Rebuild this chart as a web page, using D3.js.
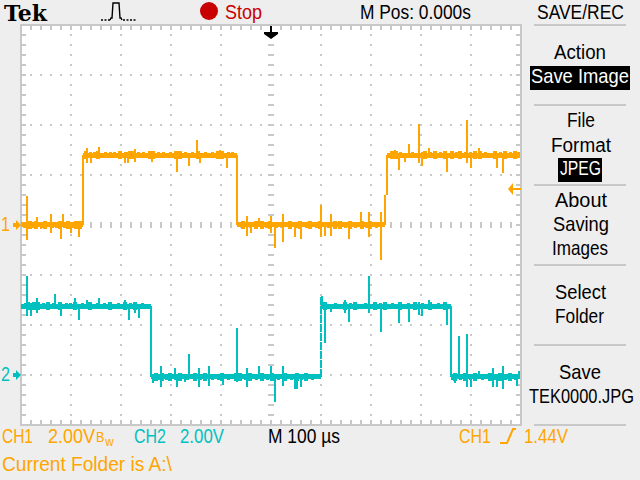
<!DOCTYPE html>
<html><head><meta charset="utf-8">
<script src="https://cdn.jsdelivr.net/npm/d3@7/dist/d3.min.js"></script>
<style>html,body{margin:0;padding:0;background:#eeeeee}svg{display:block}
text{font-family:"Liberation Sans Narrow","Liberation Sans",sans-serif;font-size:20px}</style>
</head><body><svg id="c" width="640" height="480"></svg>
<script>
// Time in microseconds from screen centre, voltage in volts above each channel's ground.
const ch1Steps = [[-500,0.02],[-376,0.02],[-376,2.8],[-68,2.8],[-68,0.02],[228,0.02],[228,1.2],[232,1.2],[232,2.8],[498,2.8]];
const ch2Steps = [[-500,2.76],[-240,2.76],[-240,-0.06],[100,-0.06],[100,3.16],[102,3.16],[102,2.76],[360,2.76],[360,-0.06],[498,-0.06]];
const ch1Spikes = [[-488,1.16],[-488,-0.6],[-468,0.32],[-440,0.44],[-440,-0.32],[-416,0.44],[-420,-0.56],[-384,-0.48],[-400,-0.32],[-460,-0.16],
 [-368,3.08],[-368,2.48],[-360,2.48],[-344,3.12],[-292,2.48],[-286,2.48],[-272,3.04],[-272,2.52],[-238,2.52],[-188,2.12],[-164,2.36],[-148,3.4],[-142,2.48],[-88,2.28],[-102,3.0],
 [-48,0.36],[-48,-0.44],[-40,-0.32],[-24,0.28],[0,0.36],[0,-0.32],[8,-0.92],[24,0.44],[24,-0.68],[48,-0.48],[60,-0.56],[100,0.8],[100,-0.48],[108,-0.44],[120,0.44],[120,-0.44],[156,-0.56],[180,0.52],[196,0.52],[196,-0.48],[220,0.52],[220,-1.4],
 [248,3.0],[256,2.2],[268,2.52],[276,3.24],[296,4.04],[296,2.48],[302,2.36],[316,3.08],[352,2.12],[392,4.2],[392,2.48],[400,2.28],[416,3.08],[452,2.28],[464,2.08]];
const ch2Spikes = [[-488,3.96],[-488,2.36],[-480,2.36],[-468,3.08],[-468,2.48],[-432,3.24],[-420,2.36],[-392,3.08],[-384,2.2],[-368,3.0],[-344,3.08],[-292,3.0],[-284,2.2],[-272,2.92],[-272,2.48],[-264,2.28],
 [-236,-0.32],[-220,0.36],[-220,-0.48],[-192,0.28],[-188,-0.48],[-172,-0.28],[-164,0.84],[-144,0.28],[-144,-0.48],[-124,0.36],[-124,-0.44],[-96,-0.4],[-68,1.88],[-68,-0.28],[-48,0.28],[-48,-0.48],[-24,0.36],[0,0.36],[8,-1.08],[24,0.36],[24,-0.44],[48,-0.56],[52,-0.56],[60,-0.48],
 [108,1.28],[120,2.52],[148,3.0],[148,2.48],[156,2.12],[196,3.96],[196,2.48],[220,1.72],[256,2.08],[276,2.12],[296,2.92],[296,2.4],[302,2.36],[316,3.0],[352,2.0],
 [376,1.56],[368,-0.32],[392,1.64],[392,-0.48],[400,-0.48],[416,0.16],[444,0.28],[444,-0.48],[452,-0.48],[464,0.36],[464,-0.56],[492,-0.44],[496,0.16]];
const ch1Bumps = [-482,-470,-452,-422,-406,-390,-382,-370,-346,-302,-282,-276,-242,-236,-190,-182,-146,-106,-98,-56,-30,-18,-2,38,58,78,98,128,138,158,182,198,242,250,308,328,348,362,378,408,418,448,468,488];
const ch2Bumps = [-486,-474,-466,-446,-422,-392,-362,-322,-292,-272,-230,-218,-202,-182,-152,-132,-98,-70,-62,-42,-18,2,28,52,70,108,148,168,208,228,258,288,318,348,368,388,408,438,458,478];
const ch1SmallBumps = [-494,-476,-460,-438,-430,-414,-398,-362,-354,-332,-322,-314,-292,-286,-266,-256,-226,-216,-202,-172,-158,-132,-118,-86,-78,-42,-10,10,22,50,70,90,114,148,168,190,210,258,282,302,318,338,370,388,398,428,458,478,494];
const ch2SmallBumps = [-492,-480,-456,-436,-410,-402,-378,-348,-334,-306,-282,-258,-224,-210,-192,-168,-142,-118,-106,-86,-52,-30,-8,14,40,60,82,128,158,188,218,242,274,302,334,362,378,398,422,448,468,488];
const triggerLevel = 1.44;
const menuLabels = ["SAVE/REC","Action","Save Image","File","Format","JPEG","About","Saving","Images","Select","Folder","Save","TEK0000.JPG"];
const gridDivisions = [0,1,2,3,4,5,6,7,8,9,10];
const iconDotsLeft = [[1,20],[10,20]];
const iconPulse = [[10,20],[11,18],[12,18],[13,3],[19,3],[20,18],[21,18],[22,20]];
const iconDotsRight = [[23,20],[36,20]];

const ORANGE="#ffa500", CYAN="#00c0c0", GREY="#c8c8c8";
const svg=d3.select("#c");
const x=d3.scaleLinear().domain([-500,500]).range([21,521]);
const ch1Y=d3.scaleLinear().domain([0,2]).range([225,175]);
const ch2Y=d3.scaleLinear().domain([0,2]).range([375,325]);
const frameY=d3.scaleLinear().domain([0,8]).range([25,425]);
const frameX=d3.scaleLinear().domain([0,10]).range([21,521]);

svg.append("rect").attr("width",640).attr("height",480).attr("fill","#eeeeee");
svg.append("rect").attr("x",21).attr("y",25).attr("width",500).attr("height",400).attr("fill","#fff");

const g=svg.append("g").attr("shape-rendering","crispEdges").attr("fill",GREY);
const subX=d3.range(0,10.01,0.2), subY=d3.range(0,8.01,0.2);
gridDivisions.forEach(d=>{ subY.forEach(s=>{ g.append("rect").attr("x",frameX(d)-1).attr("y",frameY(s)-1).attr("width",2).attr("height",2); });});
d3.range(0,9).forEach(d=>{ subX.forEach(s=>{ g.append("rect").attr("x",frameX(s)-1).attr("y",frameY(d)-1).attr("width",2).attr("height",2); });});
subX.forEach(s=>g.append("rect").attr("x",frameX(s)-1).attr("y",frameY(4)-3).attr("width",2).attr("height",6));
subY.forEach(s=>g.append("rect").attr("x",frameX(5)-3).attr("y",frameY(s)-1).attr("width",6).attr("height",2));
subX.forEach(s=>{g.append("rect").attr("x",frameX(s)-1).attr("y",25).attr("width",2).attr("height",5);
 g.append("rect").attr("x",frameX(s)-1).attr("y",420).attr("width",2).attr("height",5);});
subY.forEach(s=>{g.append("rect").attr("x",21).attr("y",frameY(s)-1).attr("width",5).attr("height",2);
 g.append("rect").attr("x",516).attr("y",frameY(s)-1).attr("width",5).attr("height",2);});
g.append("rect").attr("x",20).attr("y",24).attr("width",502).attr("height",2);
g.append("rect").attr("x",20).attr("y",424).attr("width",502).attr("height",2);
g.append("rect").attr("x",20).attr("y",24).attr("width",2).attr("height",402);
g.append("rect").attr("x",520).attr("y",24).attr("width",2).attr("height",402);

function levelAt(steps,t){let v=steps[0][1];for(const p of steps){if(p[0]<=t)v=p[1];}return v;}
function trace(steps,spikes,bumps,small,yS,color,dashT){
  const t=svg.append("g").attr("stroke",color).attr("fill","none").attr("shape-rendering","crispEdges");
  d3.pairs(steps).forEach(([a,b])=>{
    const flat=a[1]===b[1];
    if(flat&&b[0]-a[0]<6)return;
    const el=t.append("line").attr("x1",x(a[0])).attr("x2",x(b[0])).attr("y1",yS(a[1])).attr("y2",yS(b[1]))
      .attr("stroke-width",flat?5:2);
    if(!flat&&a[0]===dashT) el.attr("stroke-dasharray","8 1");
  });
  spikes.forEach(([tm,v])=>{
    t.append("line").attr("x1",x(tm)).attr("x2",x(tm)).attr("y1",yS(levelAt(steps,tm))).attr("y2",yS(v)).attr("stroke-width",2);
  });
  bumps.forEach(tm=>{
    const l=levelAt(steps,tm);
    t.append("line").attr("x1",x(tm)).attr("x2",x(tm)).attr("y1",yS(l+0.16)).attr("y2",yS(l-0.16)).attr("stroke-width",4);
  });
  small.forEach(tm=>{
    const l=levelAt(steps,tm);
    t.append("line").attr("x1",x(tm)).attr("x2",x(tm)).attr("y1",yS(l+0.12)).attr("y2",yS(l-0.12)).attr("stroke-width",3);
  });
}
trace(ch1Steps,ch1Spikes,ch1Bumps,ch1SmallBumps,ch1Y,ORANGE);
trace(ch2Steps,ch2Spikes,ch2Bumps,ch2SmallBumps,ch2Y,CYAN,100);

// Text is fitted to its measured span by a horizontal scale, so its box is its real extent.
function txt(s,x0,x1,base,fill,opts){
  const o=opts||{};
  const t=svg.append("text").attr("fill",fill).text(s);
  if(o.size)t.style("font-size",o.size+"px");
  if(o.family)t.style("font-family",o.family);
  if(o.weight)t.style("font-weight",o.weight);
  if(o.build)o.build(t);
  const len=t.node().getComputedTextLength();
  t.attr("transform",`translate(${x0},${base}) scale(${(x1-x0)/len},1)`);
  return t;
}
// Header
txt("Tek",4,47,21,"#000",{size:22,family:"'DejaVu Serif',serif",weight:"bold"});
const icon=d3.line().x(d=>100+d[0]).y(d=>d[1]);
const iconG=svg.append("g").attr("fill","none").attr("stroke","#000").attr("stroke-width",1.4);
iconG.append("path").attr("d",icon(iconDotsLeft)).attr("stroke-dasharray","2 1.5");
iconG.append("path").attr("d",icon(iconPulse));
iconG.append("path").attr("d",icon(iconDotsRight)).attr("stroke-dasharray","2 1.5");
svg.append("circle").attr("cx",209).attr("cy",11).attr("r",9).attr("fill","#c80000");
txt("Stop",225,262,18.5,"#c80000");
txt("M Pos: 0.000s",360,471,18.5,"#000");

// Menu
const menuPos=[[537,624,18.5],[554,606,59],[531,629,83],[567,595,127],[551,611,152],[560,601,175],[555,607,207],[553,609,231],[552,608,255],[555,606,299],[555,604,323],[559,601,379],[529,634,403]];
svg.append("rect").attr("x",530).attr("y",66).attr("width",100).attr("height",24).attr("fill","#000");
svg.append("rect").attr("x",558).attr("y",158).attr("width",44).attr("height",24).attr("fill","#000");
menuLabels.forEach((s,i)=>{const p=menuPos[i];txt(s,p[0],p[1],p[2],(s==="Save Image"||s==="JPEG")?"#fff":"#000");});
[25,105,185,265,345,425].forEach(yy=>svg.append("rect").attr("x",534).attr("y",yy-1).attr("width",92).attr("height",2).attr("fill",GREY).attr("shape-rendering","crispEdges"));

// Footer
txt("CH1",2,33,443,ORANGE);
txt("2.00V",48,112,443,ORANGE,{build:t=>{
  t.append("tspan").attr("dx",1).attr("dy",-1).style("font-size","14px").text("B");
  t.append("tspan").attr("dx",1).attr("dy",4).style("font-size","13px").text("w");
}});
txt("CH2",134,166,443,CYAN);
txt("2.00V",180,224,443,CYAN);
txt("M 100 µs",268,340,443,"#000");
txt("CH1",459,491,443,ORANGE);
txt("1.44V",524,568,443,ORANGE);
svg.append("path").attr("d","M500 443H507L513 429H516").attr("fill","none").attr("stroke",ORANGE).attr("stroke-width",2);
txt("Current Folder is A:\\",2,172,471,ORANGE);

// Markers
const yc1=ch1Y(0), yc2=ch2Y(0);
txt("1",1,10,231,ORANGE,{size:20});
txt("2",1,10,381,CYAN,{size:20});
const marker=(yy,c)=>svg.append("path").attr("d",`M13 ${yy-2}H16V${yy-5}L21 ${yy}L16 ${yy+5}V${yy+2}H13Z`).attr("fill",c);
marker(yc1,ORANGE); marker(yc2,CYAN);
const tx=x(0);
svg.append("path").attr("d",`M${tx-1} 26H${tx+1}V32H${tx+7}V34L${tx} 39L${tx-7} 34V32H${tx-1}Z`).attr("fill","#000");
const ty=ch1Y(triggerLevel);
svg.append("path").attr("d",`M508 ${ty}L513 ${ty-6}V${ty-1}H521V${ty+1}H513V${ty+6}Z`).attr("fill",ORANGE);
</script></body></html>
